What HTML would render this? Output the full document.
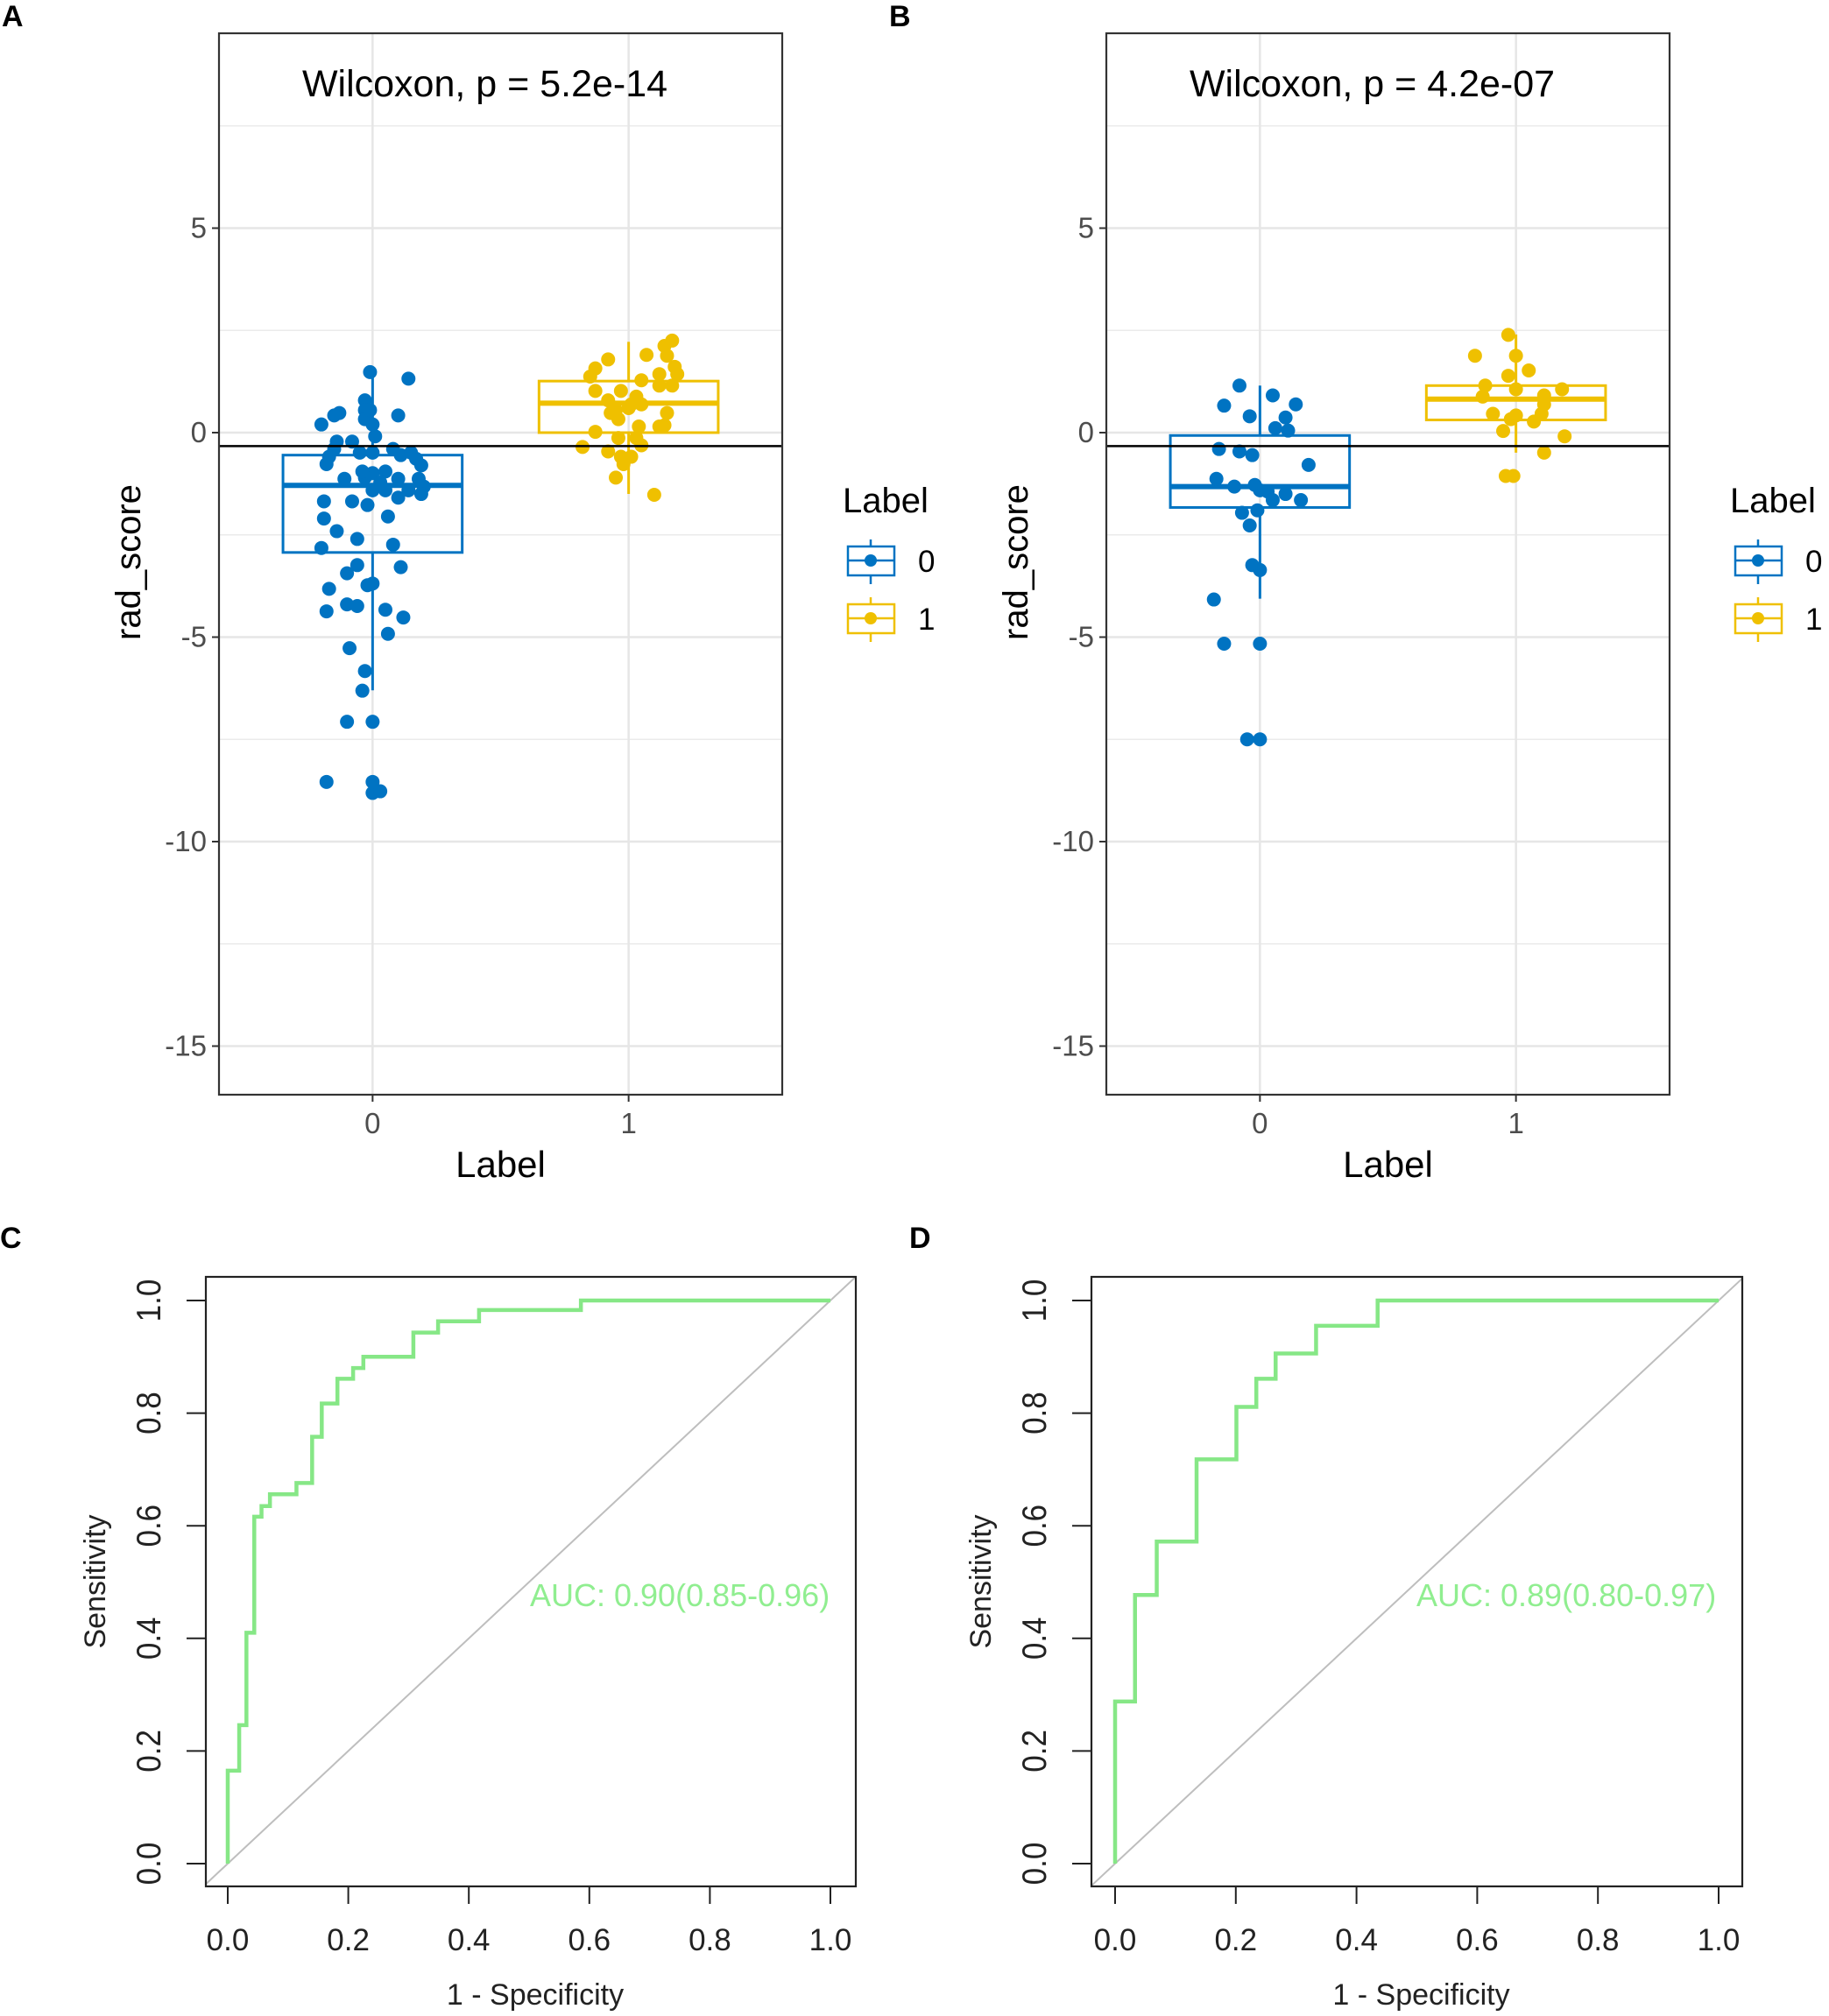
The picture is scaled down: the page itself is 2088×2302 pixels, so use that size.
<!DOCTYPE html>
<html><head><meta charset="utf-8"><style>
html,body{margin:0;padding:0;background:#fff;}
svg{display:block;font-family:"Liberation Sans",Arial,sans-serif;}
</style></head><body>
<svg id="fig" width="2088" height="2302" viewBox="0 0 2088 2302" xmlns="http://www.w3.org/2000/svg"></svg>
<script>
// ---------- data: box plots ----------
const yTicks=[5,0,-5,-10,-15];
const yTickLabels=["5","0","-5","-10","-15"];
const yMinor=[7.5,2.5,-2.5,-7.5,-12.5];
const categories=["0","1"];
const cutoffA=-0.33, cutoffB=-0.33;
const pA="Wilcoxon, p = 5.2e-14", pB="Wilcoxon, p = 4.2e-07";
// box stats: [lowerWhisker, q1, median, q3, upperWhisker]
const boxA0=[-6.3,-2.93,-1.29,-0.55,1.48];
const boxA1=[-1.5,0,0.72,1.26,2.22];
const boxB0=[-4.06,-1.83,-1.32,-0.07,1.15];
const boxB1=[-0.49,0.31,0.82,1.15,2.4];
const ptsA0v=[1.48,1.32,0.79,0.55,0.42,0.48,0.42,0.2,0.33,0.2,-0.09,-0.22,-0.22,-0.4,-0.59,-0.77,-0.49,-0.49,-0.4,-0.55,-0.49,-0.64,-0.8,-1.13,-1.1,-0.99,-0.95,-1.22,-1.41,-1.13,-1.13,-1.32,-1.5,-1.68,-1.68,-1.77,-1.59,-2.05,-2.1,-2.41,-2.6,-2.74,-2.82,-3.24,-3.29,-3.44,-3.69,-3.73,-3.82,-4.2,-4.24,-4.37,-4.33,-4.52,-4.92,-5.27,-5.83,-6.31,-7.07,-7.07,-8.54,-8.54,-8.81,-8.77,0.55,-1.41,-1.41,-0.95];
const ptsA0j=[-0.01,0.14,-0.03,-0.03,0.1,-0.13,-0.15,-0.2,-0.03,0,0.01,-0.14,-0.08,-0.15,-0.17,-0.18,-0.05,0,0.08,0.11,0.15,0.17,0.19,-0.11,-0.03,0,0.05,0.03,0,0.1,0.18,0.2,0.19,-0.19,-0.08,-0.02,0.1,0.06,-0.19,-0.14,-0.06,0.08,-0.2,-0.06,0.11,-0.1,0,-0.02,-0.17,-0.1,-0.06,-0.18,0.05,0.12,0.06,-0.09,-0.03,-0.04,-0.1,0,-0.18,0,0,0.03,-0.01,0.05,0.14,-0.04];
const ptsA1v=[2.25,2.12,1.9,1.79,1.88,1.57,1.61,1.37,1.28,1.43,1.43,1.15,1.15,1.02,1.02,0.88,0.79,0.69,0.69,0.55,0.48,0.48,0.6,0.33,0.15,0.15,0.18,0.02,-0.13,-0.13,-0.31,-0.35,-0.46,-0.59,-0.59,-0.77,-1.1,-1.52];
const ptsA1j=[0.17,0.14,0.07,-0.08,0.15,-0.13,0.18,-0.15,0.05,0.12,0.19,0.12,0.17,-0.13,-0.03,0.03,-0.08,0.01,0.05,-0.05,-0.07,0.15,0,-0.04,0.04,0.12,0.14,-0.13,-0.04,0.03,0.05,-0.18,-0.08,-0.03,0.01,-0.02,-0.05,0.1];
const ptsB0v=[1.15,0.66,0.91,0.69,0.4,0.37,0.11,0.05,-0.4,-0.46,-0.55,-0.79,-1.13,-1.32,-1.28,-1.41,-1.44,-1.65,-1.5,-1.65,-1.96,-1.9,-2.27,-3.24,-3.36,-4.08,-5.16,-5.16,-7.5,-7.5];
const ptsB0j=[-0.08,-0.14,0.05,0.14,-0.04,0.1,0.06,0.11,-0.16,-0.08,-0.03,0.19,-0.17,-0.1,-0.02,0,0.03,0.05,0.1,0.16,-0.07,-0.01,-0.04,-0.03,0,-0.18,-0.14,0,-0.05,0];
const ptsB1v=[2.39,1.88,1.88,1.52,1.39,1.15,1.06,1.06,0.88,0.91,0.69,0.46,0.33,0.42,0.46,0.27,0.04,-0.09,-0.49,-1.06,-1.06];
const ptsB1j=[-0.03,-0.16,0,0.05,-0.03,-0.12,0,0.18,-0.13,0.11,0.11,-0.09,-0.02,0,0.1,0.07,-0.05,0.19,0.11,-0.04,-0.01];
// ---------- data: ROC ----------
const rocTicks=[0,0.2,0.4,0.6,0.8,1.0];
const rocTickLabels=["0.0","0.2","0.4","0.6","0.8","1.0"];
const rocCfpr=[0,0,0.019,0.019,0.031,0.031,0.044,0.044,0.056,0.056,0.07,0.07,0.114,0.114,0.14,0.14,0.156,0.156,0.182,0.182,0.208,0.208,0.225,0.225,0.308,0.308,0.349,0.349,0.417,0.417,0.586,0.586,1];
const rocCtpr=[0,0.165,0.165,0.246,0.246,0.41,0.41,0.616,0.616,0.635,0.635,0.656,0.656,0.676,0.676,0.758,0.758,0.817,0.817,0.861,0.861,0.88,0.88,0.9,0.9,0.943,0.943,0.963,0.963,0.983,0.983,1,1];
const rocDfpr=[0,0,0.033,0.033,0.069,0.069,0.135,0.135,0.201,0.201,0.234,0.234,0.266,0.266,0.333,0.333,0.435,0.435,1];
const rocDtpr=[0,0.288,0.288,0.477,0.477,0.572,0.572,0.718,0.718,0.811,0.811,0.861,0.861,0.906,0.906,0.955,0.955,1,1];
const aucC="AUC: 0.90(0.85-0.96)", aucD="AUC: 0.89(0.80-0.97)";

const NS="http://www.w3.org/2000/svg";
const svg=document.getElementById('fig');
function mk(tag,attrs,parent,text){const e=document.createElementNS(NS,tag);for(const k in attrs)e.setAttribute(k,attrs[k]);if(text!==undefined)e.textContent=text;(parent||svg).appendChild(e);return e;}
const BLUE="#0073C2", GOLD="#EFC000";

function boxPanel(ox,letter,pText,cut,boxes,pv,pj,legendX){
  const g=mk('g',{});
  
  
  const L=250+ox,R=893+ox,T=38,B=1250;
  const ys=v=>494-v*46.7;
  const xs=c=>L+(c+0.6)*(R-L)/2.2;
  yMinor.forEach(v=>{const l=mk('line',{x1:L,x2:R,y1:ys(v),y2:ys(v),stroke:'#ebebeb','stroke-width':1.5},g);});
  yTicks.forEach(v=>{const l=mk('line',{x1:L,x2:R,y1:ys(v),y2:ys(v),stroke:'#e6e6e6','stroke-width':2.5},g);});
  categories.forEach((c,i)=>{const l=mk('line',{x1:xs(i),x2:xs(i),y1:T,y2:B,stroke:'#e6e6e6','stroke-width':2.5},g);});
  const cols=[BLUE,GOLD];
  boxes.forEach((b,i)=>{
    const cx=xs(i),hw=0.35*(R-L)/2.2,col=cols[i];
    const bg=mk('g',{},g);
    
    
    mk('line',{x1:cx,x2:cx,y1:ys(b[4]),y2:ys(b[3]),stroke:col,'stroke-width':3},bg);
    mk('line',{x1:cx,x2:cx,y1:ys(b[1]),y2:ys(b[0]),stroke:col,'stroke-width':3},bg);
    mk('rect',{x:cx-hw,y:ys(b[3]),width:2*hw,height:ys(b[1])-ys(b[3]),fill:'none',stroke:col,'stroke-width':3},bg);
    mk('line',{x1:cx-hw,x2:cx+hw,y1:ys(b[2]),y2:ys(b[2]),stroke:col,'stroke-width':6},bg);
    pv[i].forEach((v,k)=>{const c=mk('circle',{cx:cx+pj[i][k]*(R-L)/2.2,cy:ys(v),r:8,fill:col},bg);});
  });
  const h=mk('line',{x1:L,x2:R,y1:ys(cut),y2:ys(cut),stroke:'#000','stroke-width':2.5},g);
  
  const fr=mk('rect',{x:L,y:T,width:R-L,height:B-T,fill:'none',stroke:'#333','stroke-width':2.2},g);
  
  yTicks.forEach((v,i)=>{mk('line',{x1:L-8,x2:L,y1:ys(v),y2:ys(v),stroke:'#333','stroke-width':2},g);
    const t=mk('text',{x:L-14,y:ys(v)+11,'text-anchor':'end','font-size':33,fill:'#4d4d4d'},g,yTickLabels[i]);});
  categories.forEach((c,i)=>{mk('line',{x1:xs(i),x2:xs(i),y1:B,y2:B+8,stroke:'#333','stroke-width':2},g);
    const t=mk('text',{x:xs(i),y:1294,'text-anchor':'middle','font-size':33,fill:'#4d4d4d'},g,c);});
  let t=mk('text',{x:(L+R)/2,y:1344,'text-anchor':'middle','font-size':42,fill:'#000'},g,'Label');
  t=mk('text',{x:0,y:0,'text-anchor':'middle','font-size':40,fill:'#000',transform:`translate(${160+ox},642) rotate(-90)`},g,'rad_score');
  t=mk('text',{x:(L+R)/2-18,y:110,'text-anchor':'middle','font-size':43,fill:'#000'},g,pText);
  t=mk('text',{x:ox+2,y:30,'font-size':34,'font-weight':'bold',fill:'#000'},g,letter);
  const lg=mk('g',{},g);
  t=mk('text',{x:legendX-6,y:585,'font-size':40,fill:'#000'},lg,'Label');
  [[640,BLUE,'0'],[706,GOLD,'1']].forEach(([cy,col,lab])=>{
    const e=mk('g',{},lg);
    const kx=legendX+26;
    mk('line',{x1:kx,x2:kx,y1:cy-24,y2:cy+27,stroke:col,'stroke-width':2.5},e);
    mk('rect',{x:legendX,y:cy-16,width:53,height:33,fill:'#fff',stroke:col,'stroke-width':2.5},e);
    mk('line',{x1:legendX,x2:legendX+53,y1:cy,y2:cy,stroke:col,'stroke-width':2.5},e);
    mk('circle',{cx:kx,cy:cy,r:7,fill:col},e);
    mk('text',{x:legendX+80,y:cy+13,'font-size':35,fill:'#000'},e,lab);
  });
}
boxPanel(0,'A',pA,cutoffA,[boxA0,boxA1],[ptsA0v,ptsA1v],[ptsA0j,ptsA1j],968);
boxPanel(1013,'B',pB,cutoffB,[boxB0,boxB1],[ptsB0v,ptsB1v],[ptsB0j,ptsB1j],1981);

function rocPanel(L,R,x0,x1,letter,fpr,tpr,auc,aucX){
  const g=mk('g',{});
  
  
  const T=1458,B=2154,y0=2128,y1=1485;
  const xs=v=>x0+v*(x1-x0), ys=v=>y0-v*(y0-y1);
  const vmin=Math.max((L-x0)/(x1-x0),(y0-B)/(y0-y1)), vmax=Math.min((R-x0)/(x1-x0),(y0-T)/(y0-y1));
  let e=mk('line',{x1:xs(vmin),y1:ys(vmin),x2:xs(vmax),y2:ys(vmax),stroke:'#bebebe','stroke-width':2},g);
  
  e=mk('polyline',{points:fpr.map((f,i)=>xs(f)+','+ys(tpr[i])).join(' '),fill:'none',stroke:'#86E786','stroke-width':4.5},g);
  
  e=mk('rect',{x:L,y:T,width:R-L,height:B-T,fill:'none',stroke:'#222','stroke-width':2.2},g);
  
  rocTicks.forEach((v,i)=>{
    mk('line',{x1:xs(v),x2:xs(v),y1:B,y2:B+20,stroke:'#222','stroke-width':2},g);
    let t=mk('text',{x:xs(v),y:2227,'text-anchor':'middle','font-size':35,fill:'#222'},g,rocTickLabels[i]);
    mk('line',{x1:L-22,x2:L,y1:ys(v),y2:ys(v),stroke:'#222','stroke-width':2},g);
    t=mk('text',{x:0,y:0,'text-anchor':'middle','font-size':35,fill:'#222',transform:`translate(${L-52},${ys(v)}) rotate(-90) scale(1,1.12)`},g,rocTickLabels[i]);
  });
  let t=mk('text',{x:(L+R)/2+5,y:2289,'text-anchor':'middle','font-size':34,fill:'#222'},g,'1 - Specificity');
  t=mk('text',{x:0,y:0,'text-anchor':'middle','font-size':34,fill:'#222',transform:`translate(${L-115},1806) rotate(-90)`},g,'Sensitivity');
  t=mk('text',{x:aucX,y:1834,'font-size':36,fill:'#90EE90'},g,auc);
  t=mk('text',{x:(letter==='C'?0:1038),y:1425,'font-size':34,'font-weight':'bold',fill:'#000'},g,letter);
}
rocPanel(235,977,260,948,'C',rocCfpr,rocCtpr,aucC,605);
rocPanel(1246,1989,1273,1962,'D',rocDfpr,rocDtpr,aucD,1617);
</script>
</body></html>
